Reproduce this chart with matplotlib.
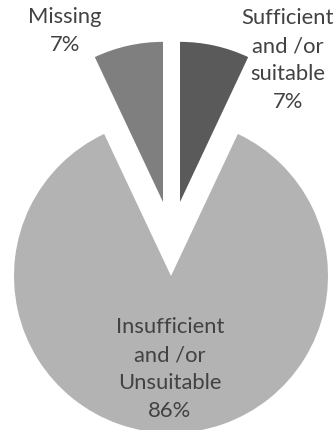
import matplotlib.pyplot as plt

# slice data
labels = ["Sufficient\nand /or\nsuitable", "Insufficient\nand /or\nUnsuitable", "Missing"]
shares = [7, 86, 7]
colors = ["#5a5a5a", "#b3b3b3", "#7f7f7f"]

W, H = 335, 431
fig = plt.figure(figsize=(W / 100, H / 100), dpi=100)
ax = fig.add_axes([0, 0, 1, 1])

# pie: start at top, go clockwise -> Sufficient on the right of 12 o'clock
wedges, _ = ax.pie(shares, colors=colors, startangle=90, counterclock=False,
                   wedgeprops=dict(linewidth=0))

# move the two small slices up (not radially, like the original)
scale = 157.0  # pixels per unit radius
cx, cy = 171, 277  # big pie centre in pixels (from top)
wedges[0].set_center((9 / scale, 74 / scale))
wedges[2].set_center((-8 / scale, 74 / scale))
wedges[0].set_radius(1.02)
wedges[2].set_radius(1.02)

ax.set_xlim(-cx / scale, (W - cx) / scale)
ax.set_ylim(-(H - cy) / scale, cy / scale)
ax.set_aspect("auto")
ax.axis("off")

font = dict(family="Lato", fontsize=15.8, color="#424242", ha="center", va="center")

def label(x, y, text):
    ax.text((x - cx) / scale, (cy - y) / scale, text, linespacing=1.48, **font)

label(65, 31, "Missing\n7%")
label(288, 60, "Sufficient\nand /or\nsuitable\n7%")
label(170, 369, "Insufficient\nand /or\nUnsuitable\n86%")

fig.savefig("out.png", dpi=100)
